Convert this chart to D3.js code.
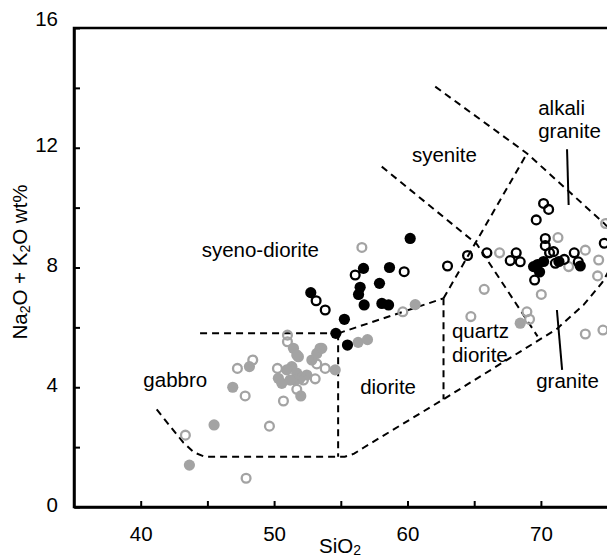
<!DOCTYPE html>
<meta charset="utf-8">
<style>
body { margin: 0; background: #fff; }
svg { display: block; font-family: "Liberation Sans", Arial, sans-serif; }
.axis path, .axis line { stroke: #000; }
.axis path { stroke-width: 2.5px; }
.axis line { stroke-width: 2px; }
.axis text { font-size: 20.5px; fill: #000; font-family: "Liberation Sans", Arial, sans-serif; }
.field { fill: none; stroke: #000; stroke-width: 2px; stroke-dasharray: 7,5; }
.leader { fill: none; stroke: #000; stroke-width: 2px; }
.label { font-size: 20.5px; fill: #000; }
</style>
<svg width="607" height="559"></svg>
<script src="https://cdn.jsdelivr.net/npm/d3@7"></script>
<script>

// SiO2 vs Na2O + K2O
var xTicks = [40, 45, 50, 55, 60, 65, 70, 75],
    yTicks = [0, 2, 4, 6, 8, 10, 12, 14, 16];

var grayFilled = [
  [46.9, 4.0], [45.5, 2.74], [43.65, 1.4], [48.15, 4.69], [52.0, 3.71], [54.58, 4.58],
  [51.45, 5.3], [51.82, 5.02], [51.33, 4.69], [50.95, 4.58], [50.32, 4.3], [50.58, 4.13],
  [51.7, 4.47], [52.45, 4.41], [51.95, 4.3], [52.83, 4.91], [53.45, 5.3], [53.2, 5.13],
  [51.58, 4.24], [51.7, 5.08], [51.2, 4.24], [60.58, 6.76], [56.3, 5.5], [57.0, 5.59],
  [68.45, 6.14]
];

var grayOpen = [
  [43.35, 2.4], [47.9, 0.96], [49.65, 2.7], [47.83, 3.71], [47.25, 4.63], [48.4, 4.91],
  [50.7, 3.54], [51.7, 3.93], [50.25, 4.63], [51.0, 5.74], [51.0, 5.52], [53.08, 4.28],
  [53.83, 4.63], [53.2, 4.78], [53.58, 5.3], [52.2, 4.24],
  [56.58, 8.67], [59.65, 6.52],
  [71.28, 9.0], [66.9, 8.49], [73.33, 8.58], [72.08, 8.03], [74.33, 8.25], [74.25, 7.72],
  [70.03, 7.1], [65.75, 7.27], [64.75, 6.36], [68.95, 6.52], [69.15, 6.27], [73.33, 5.78],
  [74.65, 5.91], [74.85, 9.47]
];

var blackFilled = [
  [60.2, 8.97], [58.65, 8.0], [56.7, 7.97], [57.9, 7.47], [56.45, 7.34], [56.33, 7.1],
  [56.75, 6.75], [58.08, 6.8], [58.58, 6.75], [52.75, 7.16], [55.27, 6.27], [54.63, 5.8],
  [55.5, 5.41],
  [69.45, 8.03], [69.9, 7.85], [70.2, 8.2], [71.35, 8.2], [72.95, 8.05], [69.75, 8.1]
];

var blackOpen = [
  [53.15, 6.89], [53.83, 6.58], [56.08, 7.75], [59.75, 7.86], [63.0, 8.05], [64.5, 8.4],
  [65.95, 8.49], [68.15, 8.49], [67.7, 8.23], [68.45, 8.19], [70.33, 8.97], [70.33, 8.73],
  [70.65, 8.49], [70.95, 8.53], [71.08, 8.14], [71.75, 8.27], [72.5, 8.49], [72.8, 8.19],
  [69.53, 7.58], [69.65, 9.59], [70.2, 10.14], [70.58, 9.94], [74.75, 8.81]
];

// field boundaries (dashed)
var outerLine = [
  [41.2, 3.26], [42.2, 2.7], [43.2, 2.15], [44.0, 1.82], [44.8, 1.68], [55.3, 1.68],
  [56.0, 1.78], [56.7, 1.98], [62.7, 3.6], [71.2, 5.95], [73.2, 6.75], [74.6, 7.5], [76, 8.6]
];
var topLine = [[62.08, 14.04], [68.96, 11.81], [74.7, 9.49], [76, 8.9]];
var gabbroTop = [[44.45, 5.8], [54.8, 5.8]];
var gabbroRight = [[54.8, 5.8], [54.8, 1.68]];
var dioriteTop = [[54.8, 5.8], [62.7, 6.97]];
var dioriteRight = [[62.7, 6.97], [62.7, 3.6]];
var syeniteRight = [[62.7, 6.97], [68.96, 11.81]];
var syenoTop = [[58.07, 11.37], [65.2, 8.78], [69.75, 5.7]];
var fields = [outerLine, topLine, gabbroTop, gabbroRight, dioriteTop, dioriteRight, syeniteRight, syenoTop];

var leaders = [
  [[71.96, 11.95], [72.08, 10.09]],
  [[71.2, 6.58], [71.59, 4.58]]
];

var labels = [
  {text: "syeno-diorite", x: 44.57, y: 8.35},
  {text: "gabbro", x: 40.2, y: 4.0},
  {text: "diorite", x: 56.45, y: 3.77},
  {text: "quartz", x: 63.33, y: 5.63},
  {text: "diorite", x: 63.33, y: 4.85},
  {text: "granite", x: 69.65, y: 3.96},
  {text: "syenite", x: 60.33, y: 11.52},
  {text: "alkali", x: 69.8, y: 13.09},
  {text: "granite", x: 69.8, y: 12.32}
];

var svg = d3.select("svg"),
    width = +svg.attr("width"),
    height = +svg.attr("height");

var x = d3.scaleLinear().domain([35, 75]).range([74, 607.6]),
    y = d3.scaleLinear().domain([0, 16]).range([507, 28]);

svg.append("clipPath").attr("id", "plot")
  .append("rect")
    .attr("x", x(35))
    .attr("y", y(16))
    .attr("width", x(76) - x(35))
    .attr("height", y(0) - y(16));

// frame (right side falls just outside the picture)
svg.append("rect")
    .attr("x", x(35))
    .attr("y", y(16))
    .attr("width", x(75.5) - x(35))
    .attr("height", y(0) - y(16))
    .attr("fill", "none")
    .attr("stroke", "#000")
    .attr("stroke-width", 2.5);

var line = d3.line()
    .x(function(d) { return x(d[0]); })
    .y(function(d) { return y(d[1]); });

var plot = svg.append("g").attr("clip-path", "url(#plot)");

plot.selectAll(".field")
    .data(fields)
  .enter().append("path")
    .attr("class", "field")
    .attr("d", line);

plot.selectAll(".leader")
    .data(leaders)
  .enter().append("path")
    .attr("class", "leader")
    .attr("d", line);

var gray = "#a3a3a3";

function filled(data, color) {
  plot.append("g").selectAll("circle")
      .data(data)
    .enter().append("circle")
      .attr("cx", function(d) { return x(d[0]); })
      .attr("cy", function(d) { return y(d[1]); })
      .attr("r", 5.6)
      .attr("fill", color);
}

function open(data, color) {
  plot.append("g").selectAll("circle")
      .data(data)
    .enter().append("circle")
      .attr("cx", function(d) { return x(d[0]); })
      .attr("cy", function(d) { return y(d[1]); })
      .attr("r", 4.4)
      .attr("fill", "none")
      .attr("stroke", color)
      .attr("stroke-width", 2.3);
}

filled(grayFilled, gray);
open(grayOpen, gray);
filled(blackFilled, "#000");
open(blackOpen, "#000");

svg.append("g").selectAll(".label")
    .data(labels)
  .enter().append("text")
    .attr("class", "label")
    .attr("x", function(d) { return x(d.x); })
    .attr("y", function(d) { return y(d.y); })
    .text(function(d) { return d.text; });

// axes, ticks pointing inward
svg.append("g")
    .attr("class", "axis")
    .attr("transform", "translate(0," + y(0) + ")")
    .call(d3.axisBottom(x)
      .tickValues(xTicks)
      .tickFormat(function(d) { return d % 10 === 0 ? d : ""; })
      .tickSizeInner(-6)
      .tickSizeOuter(0)
      .tickPadding(19));

svg.append("g")
    .attr("class", "axis")
    .attr("transform", "translate(" + x(35) + ",0)")
    .call(d3.axisLeft(y)
      .tickValues(yTicks)
      .tickFormat(function(d) { return d % 4 === 0 ? d : ""; })
      .tickSizeInner(-6)
      .tickSizeOuter(0)
      .tickPadding(16))
  .selectAll("text")
    .attr("dy", function(d) { return d === 16 ? "-0.1em" : "0.2em"; });

var xl = svg.append("text")
    .attr("class", "label")
    .attr("x", 340)
    .attr("y", 553)
    .attr("text-anchor", "middle");
xl.append("tspan").text("SiO");
xl.append("tspan").attr("font-size", "14px").attr("dy", 2).text("2");

var yl = svg.append("text")
    .attr("class", "label")
    .attr("transform", "translate(27,262) rotate(-90)")
    .attr("text-anchor", "middle");
yl.append("tspan").text("Na");
yl.append("tspan").attr("font-size", "14px").attr("dy", 3).text("2");
yl.append("tspan").attr("dy", -3).text("O + K");
yl.append("tspan").attr("font-size", "14px").attr("dy", 3).text("2");
yl.append("tspan").attr("dy", -3).text("O wt%");

</script>
